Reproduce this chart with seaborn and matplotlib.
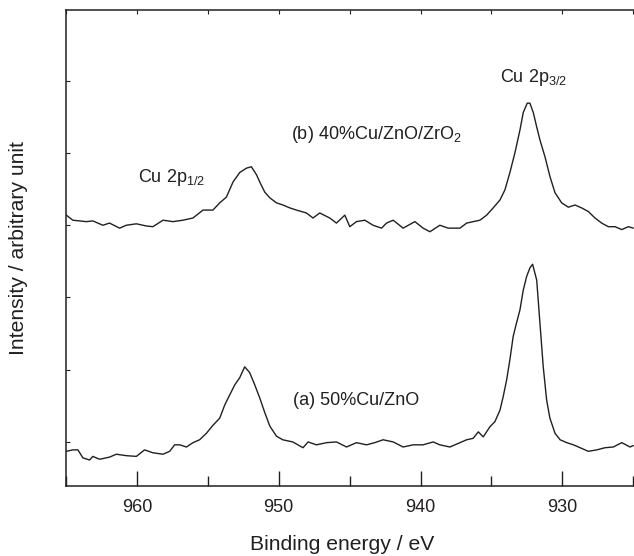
import matplotlib
matplotlib.use("Agg")
import matplotlib.pyplot as plt
import seaborn as sns
import pandas as pd

# ---- data (binding energy in eV, intensity in arbitrary units) ----
b_energy = [964.98, 964.52, 963.57, 963.11, 962.40, 961.93, 961.22, 960.75, 960.04, 959.34,
            958.87, 958.16, 957.46, 956.75, 956.05, 955.34, 954.64, 954.16, 953.69, 953.22,
            952.75, 952.28, 951.93, 951.57, 951.34, 950.99, 950.63, 950.16, 949.70, 949.22,
            948.75, 948.05, 947.58, 947.11, 946.40, 945.93, 945.34, 944.99, 944.52, 943.93,
            943.35, 942.75, 942.40, 941.93, 941.23, 940.40, 939.82, 939.34, 938.64, 938.05,
            937.22, 936.75, 936.29, 935.81, 935.34, 934.88, 934.40, 934.05, 933.70, 933.35,
            932.99, 932.76, 932.48, 932.29, 932.05, 931.81, 931.58, 931.23, 930.87, 930.52,
            930.05, 929.58, 929.11, 928.64, 928.17, 927.70, 927.23, 926.76, 926.29, 925.81,
            925.35, 925.00]
b_intensity = [4.14, 4.07, 4.05, 4.06, 4.00, 4.03, 3.96, 4.00, 4.02, 3.99,
               3.98, 4.07, 4.05, 4.07, 4.10, 4.21, 4.21, 4.31, 4.39, 4.60,
               4.73, 4.79, 4.81, 4.70, 4.60, 4.46, 4.38, 4.31, 4.28, 4.24,
               4.21, 4.17, 4.10, 4.17, 4.10, 4.03, 4.14, 3.98, 4.05, 4.07,
               4.00, 3.96, 4.03, 4.07, 3.96, 4.05, 3.96, 3.91, 4.00, 3.96,
               3.96, 4.03, 4.05, 4.07, 4.14, 4.24, 4.35, 4.49, 4.73, 5.00,
               5.32, 5.56, 5.69, 5.69, 5.56, 5.36, 5.18, 4.95, 4.67, 4.45,
               4.31, 4.25, 4.28, 4.24, 4.19, 4.10, 4.03, 3.98, 3.98, 3.94,
               3.98, 3.96]

a_energy = [964.98, 964.52, 964.16, 963.81, 963.34, 963.11, 962.63, 961.93, 961.45, 960.75,
            960.04, 959.46, 958.87, 958.16, 957.69, 957.34, 956.98, 956.51, 956.05, 955.58,
            955.10, 954.64, 954.16, 953.81, 953.46, 953.10, 952.75, 952.40, 952.05, 951.69,
            951.34, 950.99, 950.63, 950.16, 949.72, 949.01, 948.29, 947.93, 947.34, 946.63,
            945.93, 945.22, 944.52, 943.81, 943.23, 942.64, 941.93, 941.23, 940.52, 939.82,
            939.11, 938.64, 937.93, 937.22, 936.75, 936.29, 935.93, 935.58, 935.11, 934.76,
            934.40, 934.17, 933.93, 933.70, 933.47, 933.23, 932.99, 932.76, 932.52, 932.29,
            932.10, 931.81, 931.58, 931.35, 931.11, 930.88, 930.52, 930.16, 929.69, 929.22,
            928.75, 928.17, 927.58, 926.99, 926.41, 925.81, 925.23, 925.00]
a_intensity = [0.87, 0.89, 0.89, 0.78, 0.75, 0.80, 0.76, 0.79, 0.83, 0.81,
               0.80, 0.89, 0.85, 0.83, 0.87, 0.96, 0.96, 0.93, 0.99, 1.03,
               1.12, 1.23, 1.33, 1.51, 1.65, 1.79, 1.89, 2.04, 1.96, 1.79,
               1.61, 1.41, 1.22, 1.08, 1.03, 1.00, 0.92, 1.00, 0.96, 0.99,
               1.00, 0.93, 0.99, 0.96, 0.99, 1.03, 1.00, 0.93, 0.96, 0.96,
               1.00, 0.96, 0.93, 0.99, 1.03, 1.05, 1.14, 1.07, 1.21, 1.28,
               1.44, 1.63, 1.86, 2.14, 2.46, 2.65, 2.83, 3.10, 3.29, 3.41,
               3.46, 3.24, 2.64, 2.04, 1.58, 1.33, 1.12, 1.03, 0.99, 0.96,
               0.92, 0.87, 0.89, 0.92, 0.93, 0.99, 0.93, 0.95]

series_names = ["(a) 50%Cu/ZnO", "(b) 40%Cu/ZnO/ZrO$_2$"]
peak_labels = ["Cu 2p$_{1/2}$", "Cu 2p$_{3/2}$"]
x_ticks = [960, 950, 940, 930]
x_label = "Binding energy / eV"
y_label = "Intensity / arbitrary unit"

df = pd.concat([
    pd.DataFrame({"energy": a_energy, "intensity": a_intensity, "sample": "a"}),
    pd.DataFrame({"energy": b_energy, "intensity": b_intensity, "sample": "b"}),
], ignore_index=True)

# ---- style ----
sns.set_style("ticks")
plt.rcParams["font.family"] = ["Liberation Sans", "DejaVu Sans"]
plt.rcParams["mathtext.fontset"] = "custom"
plt.rcParams["mathtext.rm"] = "Liberation Sans"
plt.rcParams["mathtext.it"] = "Liberation Sans:italic"
plt.rcParams["mathtext.bf"] = "Liberation Sans:bold"
INK = "#231f20"

W, H = 634, 556
fig = plt.figure(figsize=(W / 100, H / 100), dpi=100)
left_px, right_px, top_px, bottom_px = 66, 634, 10, 486
ax = fig.add_axes([left_px / W, 1 - bottom_px / H, (right_px - left_px) / W, (bottom_px - top_px) / H])

sns.lineplot(data=df, x="energy", y="intensity", hue="sample", units="sample",
             estimator=None, palette={"a": INK, "b": INK}, linewidth=1.0,
             legend=False, ax=ax)

ax.set_xlim(965.0, 924.95)
ax.set_ylim(0.39, 6.98)

ax.set_xticks(x_ticks)
ax.set_xticks(list(range(925, 966, 5)), minor=True)
ax.set_yticks([1, 2, 3, 4, 5, 6])
ax.set_yticklabels([])
ax.tick_params(axis="x", which="major", direction="in", length=11, width=1.0,
               colors=INK, labelsize=13, pad=9)
ax.tick_params(axis="x", which="minor", direction="in", length=7, width=1.0, colors=INK)
ax.tick_params(axis="y", which="major", direction="in", length=3, width=0.8, colors=INK)

top = ax.secondary_xaxis("top")
top.set_xticks(list(range(925, 966, 5)))
top.set_xticklabels([])
top.tick_params(direction="in", length=3, width=0.8, colors=INK)
top.spines["top"].set_visible(False)

for s in ["left", "bottom", "top"]:
    ax.spines[s].set_color(INK)
    ax.spines[s].set_linewidth(1.1)
ax.spines["right"].set_visible(False)

ax.set_xlabel(x_label, fontsize=15.2, color=INK)
ax.set_ylabel(y_label, fontsize=15.2, color=INK)
ax.xaxis.set_label_coords((342 - left_px) / (right_px - left_px), -(545 - bottom_px) / (bottom_px - top_px))
ax.yaxis.set_label_coords(-(left_px - 19) / (right_px - left_px), 0.5)
ax.xaxis.label.set_va("center")
ax.yaxis.label.set_va("center")

txt = dict(fontsize=13, color=INK, ha="left", va="baseline")
ax.text(959.93, 4.60, peak_labels[0], **txt)
ax.text(934.40, 5.99, peak_labels[1], **txt)
ax.text(949.15, 5.20, series_names[1], **txt)
ax.text(949.01, 1.51, series_names[0], **txt)

fig.savefig("out.png", dpi=100)
